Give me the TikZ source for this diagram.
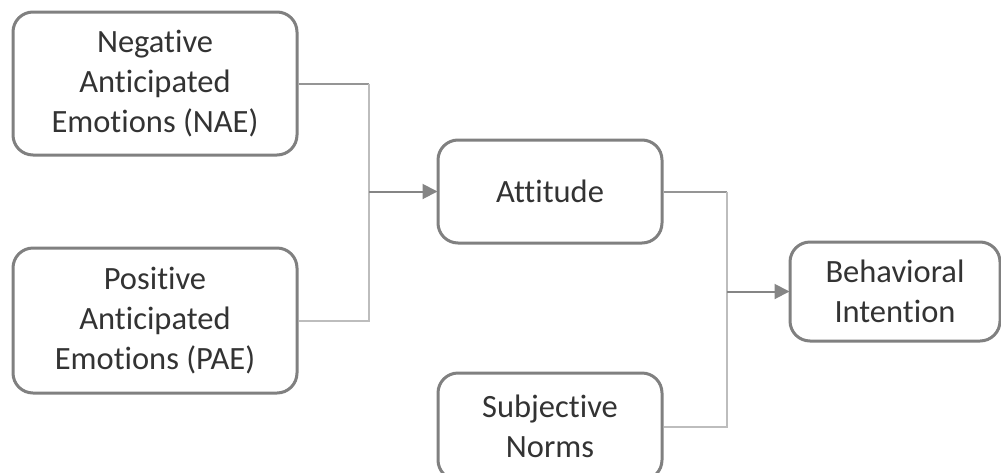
\documentclass[tikz,border=0pt]{standalone}
\usepackage{fontspec}
\setmainfont{Carlito}[RawFeature=-liga]
\usetikzlibrary{arrows.meta}
\definecolor{boxline}{HTML}{808080}
\definecolor{txt}{HTML}{333333}
\definecolor{conA}{HTML}{959595}
\definecolor{conB}{HTML}{BDBDBD}
\definecolor{conC}{HTML}{858585}
\begin{document}
\begin{tikzpicture}[x=1pt,y=-1pt,
  boxnode/.style={draw=boxline, line width=3pt, rounded corners=20pt, fill=white,
    text=txt, align=center, inner sep=0pt,
    font=\fontsize{32.5}{40}\selectfont},
  linkA/.style={draw=conA, line width=2pt},
  linkB/.style={draw=conB, line width=2pt},
  arrowlink/.style={draw=conC, line width=2pt, -{Triangle[length=15pt,width=15pt]}, shorten >=-1pt}
]
\useasboundingbox (0,0) rectangle (1001,472);
\begin{scope}
\clip (0,0) rectangle (1001,472);
\node[boxnode, minimum width=284pt, minimum height=143pt] (nae) at (155,83.5) {Negative\\Anticipated\\Emotions (NAE)};
\node[boxnode, minimum width=284pt, minimum height=145pt] (pae) at (155,320.5) {Positive\\Anticipated\\Emotions (PAE)};
\node[boxnode, minimum width=224pt, minimum height=103pt] (att) at (550,191.5) {Attitude};
\node[boxnode, minimum width=224pt, minimum height=107pt] (sn) at (550,426.5) {Subjective\\Norms};
\node[boxnode, minimum width=210pt, minimum height=99pt] (bi) at (895,291.5) {Behavioral\\Intention};
\coordinate (j1) at (369,191.5);
\coordinate (j2) at (727,291.5);
\draw[linkA] (nae.east) -- (nae.east -| j1);
\draw[linkB] (nae.east -| j1) -- (j1);
\draw[linkB] (pae.east) -| (j1);
\draw[arrowlink] (j1) -- (att.west);
\draw[linkA] (att.east) -- (att.east -| j2);
\draw[linkB] (att.east -| j2) -- (j2);
\draw[linkB] (sn.east) -| (j2);
\draw[arrowlink] (j2) -- (bi.west);
\end{scope}
\end{tikzpicture}
\end{document}
